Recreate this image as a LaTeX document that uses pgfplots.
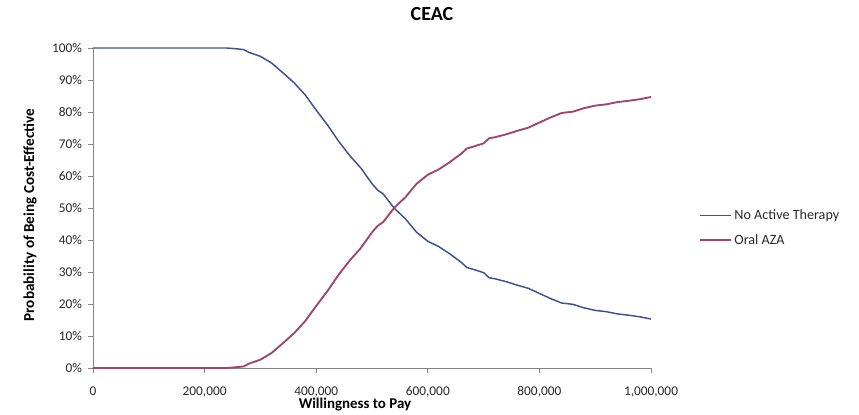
\documentclass[border=0pt]{standalone}
\usepackage{fontspec}
\setmainfont{Carlito}
\usepackage{pgfplots}
\pgfplotsset{compat=1.18}
\usepackage{pgfplotstable}

\definecolor{noact}{RGB}{64,80,140}
\definecolor{oraza}{RGB}{160,70,110}
\definecolor{axgray}{RGB}{134,134,134}
\definecolor{txt}{RGB}{40,40,40}

% willingness to pay vs. probability (%) of being cost-effective
\pgfplotstableread{
wtp     noact   oraza
0       100.0   0.0
20000   100.0   0.0
40000   100.0   0.0
60000   100.0   0.0
80000   100.0   0.0
100000  100.0   0.0
120000  100.0   0.0
140000  100.0   0.0
160000  100.0   0.0
180000  100.0   0.0
200000  100.0   0.0
220000  100.0   0.0
240000  100.0   0.0
260000  99.7    0.3
270000  99.5    0.5
280000  98.6    1.4
300000  97.4    2.6
320000  95.3    4.7
340000  92.3    7.7
360000  89.2    10.8
380000  85.4    14.6
400000  80.6    19.4
420000  76.0    24.0
440000  70.9    29.1
460000  66.4    33.6
480000  62.5    37.5
500000  57.6    42.4
510000  55.6    44.4
520000  54.4    45.6
540000  49.9    50.1
560000  46.6    53.4
580000  42.4    57.6
600000  39.6    60.4
620000  37.9    62.1
640000  35.6    64.4
660000  33.0    67.0
670000  31.4    68.6
680000  30.9    69.1
700000  29.8    70.2
710000  28.2    71.8
720000  27.9    72.1
740000  27.0    73.0
760000  25.9    74.1
780000  24.9    75.1
800000  23.3    76.7
820000  21.7    78.3
840000  20.3    79.7
860000  19.9    80.1
880000  18.8    81.2
900000  18.0    82.0
920000  17.6    82.4
940000  16.9    83.1
960000  16.5    83.5
980000  16.0    84.0
1000000 15.3    84.7
}\ceac

\begin{document}
\begin{tikzpicture}
\path[use as bounding box] (-69.75pt,-34.5pt) rectangle (574.5pt,276pt);
\begin{axis}[
  scale only axis,
  width=418.5pt, height=240pt,
  xmin=0, xmax=1000000, ymin=0, ymax=100,
  clip=false,
  axis x line*=bottom, axis y line*=left,
  axis line style={axgray, line width=0.6pt},
  tick align=outside,
  major tick length=3.75pt,
  tick style={axgray, line width=0.6pt},
  xtick={0,200000,400000,600000,800000,1000000},
  ytick={0,10,...,100},
  scaled x ticks=false,
  /pgf/number format/.cd, assume math mode=true, fixed, 1000 sep={,},
  /pgfplots/.cd,
  yticklabel={\pgfmathprintnumber{\tick}\%},
  ticklabel style={font=\fontsize{10}{12}\selectfont, text=txt},
  xticklabel style={yshift=-6.5pt},
  yticklabel style={xshift=-1pt},
  title={\textbf{CEAC}},
  title style={font=\fontsize{15}{17}\selectfont, text=black, at={(0.6075,1.0797)}, anchor=center},
  xlabel={\textbf{Willingness to Pay}},
  xlabel style={font=\fontsize{11.2}{13}\selectfont, text=black, at={(0.4695,-0.1156)}, anchor=center},
  ylabel={\textbf{Probability of Being Cost-Effective}},
  ylabel style={font=\fontsize{11.4}{13}\selectfont, text=black, at={(-0.1129,0.478)}, anchor=center},
  legend style={draw=none, fill=none, at={(1.086,0.4375)}, anchor=west,
    font=\fontsize{10.6}{12.5}\selectfont, text=txt, row sep=5.5pt,
    inner sep=0pt, cells={anchor=west}},
  legend cell align=left,
  legend image code/.code={\draw[#1] (0pt,0pt) -- (23pt,0pt);},
]
\addplot[noact, line width=1.1pt] table[x=wtp, y=noact] {\ceac};
\addlegendentry{No Active Therapy}
\addplot[oraza, line width=1.4pt] table[x=wtp, y=oraza] {\ceac};
\addlegendentry{Oral AZA}
\end{axis}
\end{tikzpicture}
\end{document}
